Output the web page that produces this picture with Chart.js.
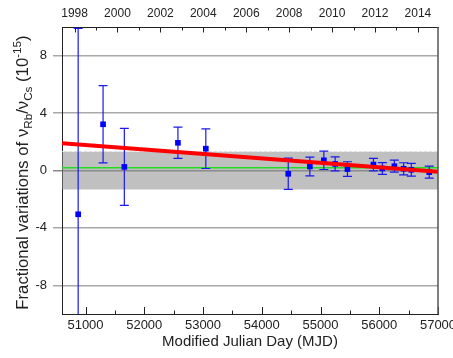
<!DOCTYPE html>
<html>
<head>
<meta charset="utf-8">
<script src="https://cdn.jsdelivr.net/npm/chart.js@4.4.1/dist/chart.umd.min.js"></script>
<style>
  html, body { margin: 0; padding: 0; background: #fff; }
  #wrap { width: 453px; height: 358px; }
</style>
</head>
<body>
<div id="wrap"><canvas id="chart"></canvas></div>
<script>
// measured points (MJD, fractional variation in 1e-15, 1-sigma error)
const mjd = [50875, 51299, 51661, 52573, 53048, 54451, 54819, 55057, 55249, 55459, 55901, 56053, 56257, 56415, 56546, 56851];
const values = [-3.05, 3.22, 0.25, 1.93, 1.52, -0.23, 0.28, 0.71, 0.46, 0.10, 0.41, 0.14, 0.30, 0.12, 0.05, -0.11];
const errors = [12.95, 2.69, 2.68, 1.09, 1.38, 1.09, 0.65, 0.64, 0.49, 0.51, 0.43, 0.41, 0.42, 0.42, 0.44, 0.42];

// linear fit (red), weighted mean (green) and its uncertainty band (grey)
const fitMjd = [50600, 57000];
const fitValues = [1.9, -0.09];
const meanValue = 0.2;
const bandHigh = 1.33;
const bandLow = -1.33;

// axis ticks
const mjdTicks = [51000, 52000, 53000, 54000, 55000, 56000, 57000];
const yTicks = [-8, -4, 0, 4, 8];
const years = [1998, 1999, 2000, 2001, 2002, 2003, 2004, 2005, 2006, 2007, 2008, 2009, 2010, 2011, 2012, 2013, 2014];

const X_MIN = 50600, X_MAX = 57000;
const yearToMjd = y => Date.UTC(y, 0, 1) / 86400000 + 40587;
const FONT = 'Arial, "Liberation Sans", sans-serif';

const errorBars = {
    id: 'errorBars',
    beforeDatasetDraw(chart, args) {
        if (args.index !== 2) return;
        const {ctx, chartArea, scales} = chart;
        ctx.save();
        ctx.beginPath();
        ctx.rect(chartArea.left, chartArea.top, chartArea.right - chartArea.left, chartArea.bottom - chartArea.top);
        ctx.clip();
        ctx.strokeStyle = '#1a1af0';
        ctx.lineWidth = 1.2;
        mjd.forEach((m, i) => {
            const x = scales.x.getPixelForValue(m);
            const yHi = scales.y.getPixelForValue(values[i] + errors[i]);
            const yLo = scales.y.getPixelForValue(values[i] - errors[i]);
            ctx.beginPath();
            ctx.moveTo(x, yHi); ctx.lineTo(x, yLo);
            ctx.moveTo(x - 4.5, yHi); ctx.lineTo(x + 4.5, yHi);
            ctx.moveTo(x - 4.5, yLo); ctx.lineTo(x + 4.5, yLo);
            ctx.stroke();
        });
        ctx.restore();
    }
};

const frame = {
    id: 'frame',
    afterDraw(chart) {
        const {ctx, chartArea: a, scales} = chart;
        ctx.save();
        ctx.strokeStyle = '#222';
        ctx.lineWidth = 1;
        ctx.beginPath();
        // bottom inward ticks
        for (let v = 51000; v <= X_MAX; v += 500) {
            const x = Math.round(scales.x.getPixelForValue(v)) + 0.5;
            const len = v % 1000 === 0 ? 7 : 3.5;
            ctx.moveTo(x, a.bottom); ctx.lineTo(x, a.bottom - len);
        }
        // top inward ticks (years)
        years.forEach(yr => {
            const x = Math.round(scales.x.getPixelForValue(yearToMjd(yr))) + 0.5;
            const len = yr % 2 === 0 ? 5.5 : 3.5;
            ctx.moveTo(x, a.top); ctx.lineTo(x, a.top + len);
        });
        ctx.stroke();
        // right border
        ctx.strokeStyle = '#555';
        ctx.lineWidth = 1.5;
        ctx.beginPath();
        ctx.moveTo(a.right, a.top); ctx.lineTo(a.right, a.bottom);
        ctx.stroke();

        // y axis title with sub/superscripts
        const parts = [
            {t: 'Fractional variations of \u03BD', s: 1, d: 0},
            {t: 'Rb', s: 0.7, d: 4},
            {t: '/\u03BD', s: 1, d: 0},
            {t: 'Cs', s: 0.7, d: 4},
            {t: ' (10', s: 1, d: 0},
            {t: '-15', s: 0.7, d: -7},
            {t: ')', s: 1, d: 0}
        ];
        const size = 16.7;
        let total = 0;
        parts.forEach(p => { ctx.font = (size * p.s) + 'px ' + FONT; p.w = ctx.measureText(p.t).width; total += p.w; });
        const cy = (a.top + a.bottom) / 2 + 2;
        ctx.translate(27.5, cy);
        ctx.rotate(-Math.PI / 2);
        ctx.fillStyle = '#222';
        ctx.textBaseline = 'alphabetic';
        let x = -total / 2;
        parts.forEach(p => {
            ctx.font = (size * p.s) + 'px ' + FONT;
            ctx.fillText(p.t, x, p.d);
            x += p.w;
        });
        ctx.restore();
    }
};

new Chart(document.getElementById('chart'), {
    type: 'scatter',
    data: {
        datasets: [
            {
                label: 'fit',
                type: 'line',
                data: fitMjd.map((m, i) => ({x: m, y: fitValues[i]})),
                borderColor: '#ff0000',
                borderWidth: 4,
                pointRadius: 0,
                fill: false,
                order: 0
            },
            {
                label: 'mean',
                type: 'line',
                data: [{x: X_MIN, y: meanValue}, {x: X_MAX, y: meanValue}],
                borderColor: '#22dd22',
                borderWidth: 1.5,
                pointRadius: 0,
                fill: false,
                order: 2
            },
            {
                label: 'data',
                data: mjd.map((m, i) => ({x: m, y: values[i]})),
                pointStyle: 'rect',
                pointRadius: 4,
                backgroundColor: '#0000ff',
                borderColor: '#0000ff',
                borderWidth: 0,
                order: 1
            },
            {
                label: 'band',
                type: 'line',
                data: [{x: X_MIN, y: bandHigh}, {x: X_MAX, y: bandHigh}],
                borderColor: 'rgba(255,255,255,0.7)',
                borderWidth: 1,
                borderDash: [2, 3],
                pointRadius: 0,
                backgroundColor: 'rgba(140,140,140,0.55)',
                fill: {value: bandLow},
                order: 3
            }
        ]
    },
    options: {
        responsive: true,
        maintainAspectRatio: false,
        animation: false,
        layout: { padding: { left: 0, right: 15, top: 0, bottom: 0 } },
        plugins: { legend: { display: false }, tooltip: { enabled: false } },
        scales: {
            x: {
                type: 'linear',
                position: 'bottom',
                min: X_MIN,
                max: X_MAX,
                afterBuildTicks: s => { s.ticks = mjdTicks.map(v => ({value: v})); },
                afterFit: s => { s.height = 44; s.paddingLeft = 0; s.paddingRight = 0; },
                grid: { display: false, drawTicks: false },
                border: { display: true, color: '#222', width: 1 },
                ticks: {
                    autoSkip: false,
                    maxRotation: 0,
                    padding: 4,
                    color: '#222',
                    font: { family: FONT, size: 13 },
                    callback: v => String(v)
                },
                title: {
                    display: true,
                    text: 'Modified Julian Day (MJD)',
                    color: '#222',
                    font: { family: FONT, size: 15 },
                    padding: { top: 0, bottom: 7 }
                }
            },
            x2: {
                type: 'linear',
                axis: 'x',
                position: 'top',
                min: X_MIN,
                max: X_MAX,
                afterBuildTicks: s => { s.ticks = years.filter(y => y % 2 === 0).map(y => ({value: yearToMjd(y)})); },
                afterFit: s => { s.height = 27; s.paddingLeft = 0; s.paddingRight = 0; },
                grid: { display: false, drawTicks: false },
                border: { display: true, color: '#222', width: 1 },
                ticks: {
                    autoSkip: false,
                    maxRotation: 0,
                    padding: 6,
                    color: '#222',
                    font: { family: FONT, size: 12 },
                    callback: v => String(new Date((v - 40587) * 86400000 + 43200000).getUTCFullYear())
                }
            },
            y: {
                min: -10,
                max: 10,
                afterBuildTicks: s => { s.ticks = yTicks.map(v => ({value: v})); },
                afterFit: s => { s.width = 62; s.paddingTop = 0; s.paddingBottom = 0; },
                grid: {
                    color: c => (c.tick && c.tick.value === 0 ? '#8a8a8a' : '#a8a8a8'),
                    lineWidth: 1.5,
                    drawTicks: true,
                    tickLength: 9
                },
                border: { display: true, color: '#222', width: 1 },
                ticks: {
                    padding: 6,
                    color: '#222',
                    font: { family: FONT, size: 13 }
                }
            }
        }
    },
    plugins: [errorBars, frame]
});
</script>
</body>
</html>
